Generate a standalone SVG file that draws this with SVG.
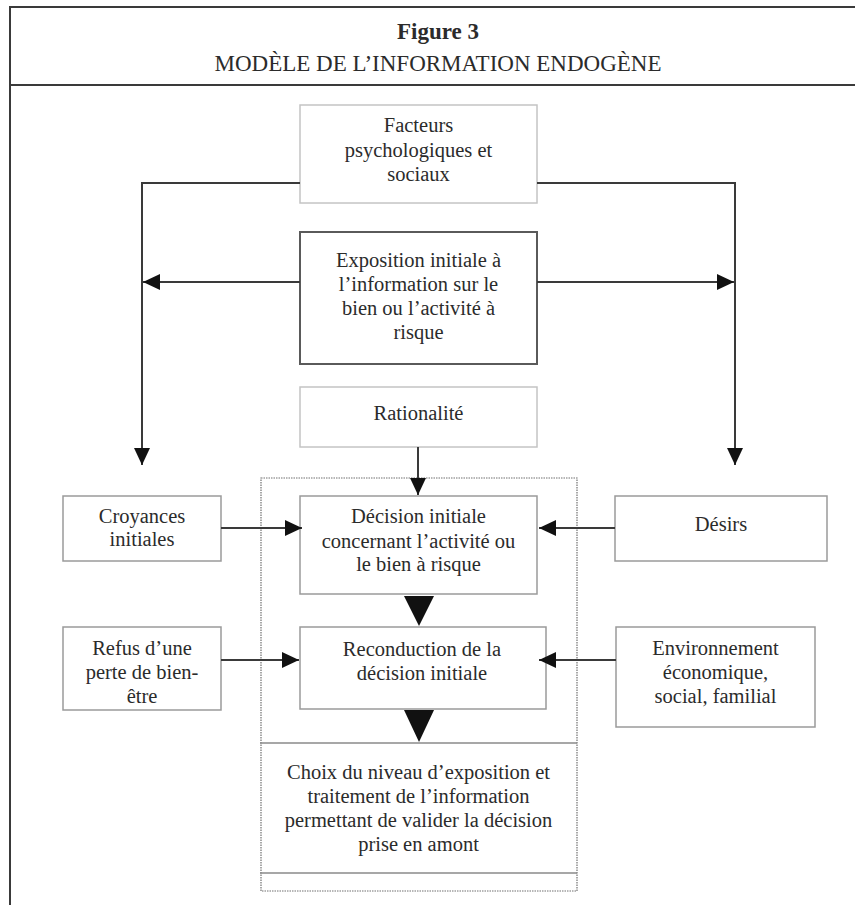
<svg xmlns="http://www.w3.org/2000/svg" width="855" height="905" viewBox="0 0 855 905">
<style>
  text { font-family: "Liberation Serif", "Times New Roman", serif; fill: #2b2b2b; text-anchor: middle; }
  .t { font-size: 20.5px; }
  .box { fill: #fff; stroke: #9a9a9a; stroke-width: 1.5; }
  .light { fill: #fff; stroke: #c4c4c4; stroke-width: 1.5; }
  .dark { fill: #fff; stroke: #5a5a5a; stroke-width: 2; }
  .conn { fill: none; stroke: #3a3a3a; stroke-width: 2; }
  .frame { fill: none; stroke: #3a3a3a; stroke-width: 2; }
  .head { fill: #111; }
</style>
<defs>
  <marker id="arr" viewBox="0 0 17 16" refX="17" refY="8" markerWidth="17" markerHeight="16" markerUnits="userSpaceOnUse" orient="auto">
    <path d="M0,0 L17,8 L0,16 Z" fill="#111"/>
  </marker>
</defs>
<rect width="855" height="905" fill="#fff"/>

<g id="frame">
  <path class="frame" d="M10,905 L10,7 L857,7"/>
  <line class="frame" x1="10" y1="85" x2="857" y2="85"/>
  <text x="438" y="39" style="font-size:23px;font-weight:bold">Figure 3</text>
  <text x="438" y="71" style="font-size:23px">MODÈLE DE L’INFORMATION ENDOGÈNE</text>
</g>

<g id="dotted-frame">
  <rect x="261" y="478" width="316" height="413" fill="none" stroke="#707070" stroke-width="1.2" stroke-dasharray="1.5,1"/>
</g>

<g id="facteurs">
  <rect class="light" x="300" y="105" width="237" height="98"/>
  <text class="t" x="418.5" y="132">Facteurs</text>
  <text class="t" x="418.5" y="157">psychologiques et</text>
  <text class="t" x="418.5" y="181">sociaux</text>
</g>

<g id="exposition">
  <rect class="dark" x="300" y="232" width="237" height="132"/>
  <text class="t" x="418.5" y="267">Exposition initiale à</text>
  <text class="t" x="418.5" y="291">l’information sur le</text>
  <text class="t" x="418.5" y="315">bien ou l’activité à</text>
  <text class="t" x="418.5" y="339">risque</text>
</g>

<g id="rationalite">
  <rect class="light" x="300" y="387" width="237" height="60"/>
  <text class="t" x="418.5" y="420">Rationalité</text>
</g>

<g id="croyances">
  <rect class="box" x="63" y="496" width="158" height="65"/>
  <text class="t" x="142" y="523">Croyances</text>
  <text class="t" x="142" y="546">initiales</text>
</g>

<g id="decision">
  <rect class="box" x="300" y="496" width="237" height="98"/>
  <text class="t" x="418.5" y="523">Décision initiale</text>
  <text class="t" x="418.5" y="548">concernant l’activité ou</text>
  <text class="t" x="418.5" y="571">le bien à risque</text>
</g>

<g id="desirs">
  <rect class="box" x="615" y="496" width="212" height="65"/>
  <text class="t" x="721" y="531">Désirs</text>
</g>

<g id="refus">
  <rect class="box" x="63" y="627" width="158" height="83"/>
  <text class="t" x="142" y="655">Refus d’une</text>
  <text class="t" x="142" y="679">perte de bien-</text>
  <text class="t" x="142" y="703">être</text>
</g>

<g id="reconduction">
  <rect class="box" x="300" y="627" width="246" height="82"/>
  <text class="t" x="422" y="656">Reconduction de la</text>
  <text class="t" x="422" y="680">décision initiale</text>
</g>

<g id="environnement">
  <rect class="box" x="616" y="627" width="199" height="100"/>
  <text class="t" x="715.5" y="655">Environnement</text>
  <text class="t" x="715.5" y="679">économique,</text>
  <text class="t" x="715.5" y="703">social, familial</text>
</g>

<g id="choix">
  <line x1="260" y1="743" x2="577" y2="743" stroke="#8a8a8a" stroke-width="1.5"/>
  <line x1="260" y1="873" x2="577" y2="873" stroke="#8a8a8a" stroke-width="1.5"/>
  <text class="t" x="418.5" y="779">Choix du niveau d’exposition et</text>
  <text class="t" x="418.5" y="803">traitement de l’information</text>
  <text class="t" x="418.5" y="827">permettant de valider la décision</text>
  <text class="t" x="418.5" y="851">prise en amont</text>
</g>

<g id="connectors">
  <path class="conn" d="M300,183 L142,183 L142,465" marker-end="url(#arr)"/>
  <path class="conn" d="M537,183 L735,183 L735,465" marker-end="url(#arr)"/>
  <path class="conn" d="M300,282 L143,282" marker-end="url(#arr)"/>
  <path class="conn" d="M537,282 L734,282" marker-end="url(#arr)"/>
  <path class="conn" d="M418,447 L418,495" marker-end="url(#arr)"/>
  <path class="conn" d="M221,528 L302,528" marker-end="url(#arr)"/>
  <path class="conn" d="M615,528 L539,528" marker-end="url(#arr)"/>
  <path class="conn" d="M221,660 L299,660" marker-end="url(#arr)"/>
  <path class="conn" d="M616,660 L539,660" marker-end="url(#arr)"/>
  <polygon class="head" points="404,596 434,596 419,626"/>
  <polygon class="head" points="404,710 434,710 419,742"/>
</g>
</svg>
